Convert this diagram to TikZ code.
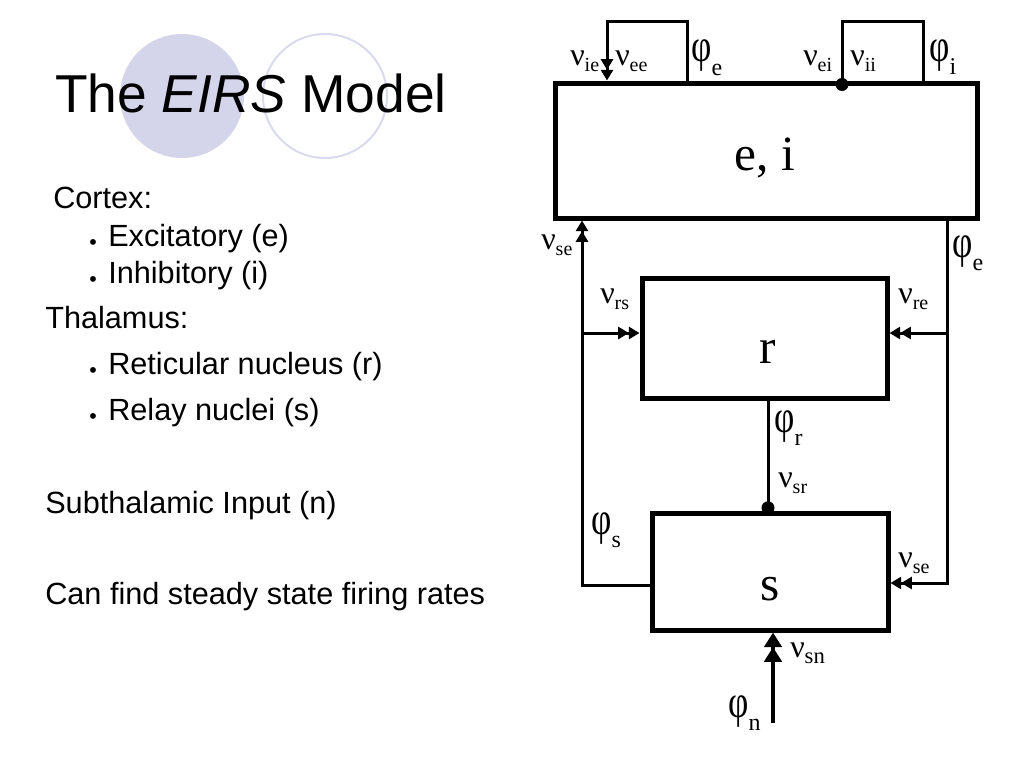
\documentclass[tikz,border=0pt]{standalone}
\usepackage{fontspec}
\setmainfont{Liberation Sans}
\newfontfamily\tnr{Liberation Serif}
\usetikzlibrary{arrows.meta}
\definecolor{lavfill}{RGB}{212,212,234}
\definecolor{lavline}{RGB}{218,218,238}
\newcommand\glab[3][15pt]{{\tnr\fontsize{24pt}{24pt}\selectfont #2}\raisebox{-5pt}{\tnr\fontsize{#1}{#1}\selectfont #3}}
\newcommand\plab[2]{{\tnr\fontsize{33pt}{33pt}\selectfont\scalebox{0.8}[1.05]{#1}}\raisebox{-10pt}{\tnr\fontsize{18pt}{18pt}\selectfont #2}}
\begin{document}
\begin{tikzpicture}[x=0.75pt,y=-0.75pt,
  box/.style={draw, line width=3.75pt, inner sep=0pt},
  conn/.style={line width=2.25pt},
  dbl/.style={-{Triangle[length=8pt,width=9pt]Triangle[length=8pt,width=9pt]}},
  bigdbl/.style={-{Triangle[length=11pt,width=13pt]Triangle[length=11pt,width=13pt]}},
  txt/.style={anchor=base west, inner sep=0pt, font=\fontsize{23pt}{23pt}\selectfont},
  bul/.style={anchor=base, inner sep=0pt, font=\fontsize{16pt}{16pt}\selectfont},
  lab/.style={anchor=base west, inner sep=0pt},
  boxtext/.style={anchor=base, inner sep=0pt, font=\tnr\fontsize{37pt}{37pt}\selectfont}
]
\useasboundingbox (0,0) rectangle (1023,767);
% decoration circles
\fill[lavfill] (182,96) circle[radius=62];
\draw[lavline, line width=1.5pt] (325,96) circle[radius=62];
% title
\node[anchor=base west, inner sep=0pt, font=\fontsize{40pt}{40pt}\selectfont] (title) at (55,112) {The \textit{EIRS} Model};
% left text
\node[txt] (cortex) at (53,208) {Cortex:};
\node[bul] (b1) at (93,249) {•};
\node[txt] (exc) at (108,246) {Excitatory (e)};
\node[bul] (b2) at (93,286) {•};
\node[txt] (inh) at (108,283) {Inhibitory (i)};
\node[txt] (thal) at (45,328) {Thalamus:};
\node[bul] (b3) at (93,377) {•};
\node[txt] (ret) at (108,374) {Reticular nucleus (r)};
\node[bul] (b4) at (93,423) {•};
\node[txt] (rel) at (108,420) {Relay nuclei (s)};
\node[txt] (sub) at (45,513) {Subthalamic Input (n)};
\node[txt] (can) at (45,604) {Can find steady state firing rates};
% boxes
\node[box, minimum width=316.5pt, minimum height=101.25pt] (ei) at (766,150.5) {};
\node[box, minimum width=183.75pt, minimum height=90pt] (r) at (764.5,338) {};
\node[box, minimum width=177pt, minimum height=87.75pt] (s) at (770,571.5) {};
\node[boxtext] (eit) at (765,170) {e, i};
\node[boxtext] (rt) at (768,363) {r};
\node[boxtext] (st) at (770,600) {s};
% coordinates
\coordinate (l1a) at (607,22);
\coordinate (l1b) at (687,22);
\coordinate (l2a) at (842,22);
\coordinate (l2b) at (923,22);
\coordinate (lv) at (582,585);
\coordinate (rv) at (947,583);
\coordinate (hr) at (0,333);
\coordinate (rs) at (768,0);
\coordinate (inp) at (773,723);
% top loops
\draw[conn, dbl] (ei.north -| l1b) -- (l1b) -- (l1a) -- (ei.north -| l1a);
\draw[conn] (ei.north -| l2b) -- (l2b) -- (l2a) -- (ei.north -| l2a);
\fill ([yshift=-3pt]ei.north -| l2a) circle[radius=6.5];
% left vertical s -> ei, and -> r
\draw[conn, dbl] (s.west |- lv) -- (lv) -- (ei.south -| lv);
\draw[conn, dbl] (lv |- hr) -- (r.west |- hr);
% right vertical ei -> s, and -> r
\draw[conn, dbl] (ei.south -| rv) -- (rv) -- (s.east |- rv);
\draw[conn, dbl] (rv |- hr) -- (r.east |- hr);
% r -> s
\draw[conn] (r.south -| rs) -- (s.north -| rs);
\fill ([yshift=2pt]s.north -| rs) circle[radius=6.5];
% input
\draw[line width=3pt, bigdbl] (inp) -- (s.south -| inp);
% labels
\node[lab] (nie) at (570,65) {\glab{ν}{ie}};
\node[lab] (nee) at (615,65) {\glab{ν}{ee}};
\node[lab] (pe1) at (691,62) {\plab{φ}{e}};
\node[lab] (nei) at (803,65) {\glab{ν}{ei}};
\node[lab] (nii) at (850,65) {\glab{ν}{ii}};
\node[lab] (pi) at (929,61) {\plab{φ}{i}};
\node[lab] (nse1) at (541,249) {\glab{ν}{se}};
\node[lab] (pe2) at (952,257) {\plab{φ}{e}};
\node[lab] (nrs) at (600,303) {\glab{ν}{rs}};
\node[lab] (nre) at (898,303) {\glab{ν}{re}};
\node[lab] (pr) at (774,432) {\plab{φ}{r}};
\node[lab] (nsr) at (778,487) {\glab{ν}{sr}};
\node[lab] (ps) at (591,534) {\plab{φ}{s}};
\node[lab] (nse2) at (898,567) {\glab{ν}{se}};
\node[lab] (nsn) at (790,657) {\glab[17pt]{ν}{sn}};
\node[lab] (pn) at (728,717) {\plab{φ}{n}};
\end{tikzpicture}
\end{document}
